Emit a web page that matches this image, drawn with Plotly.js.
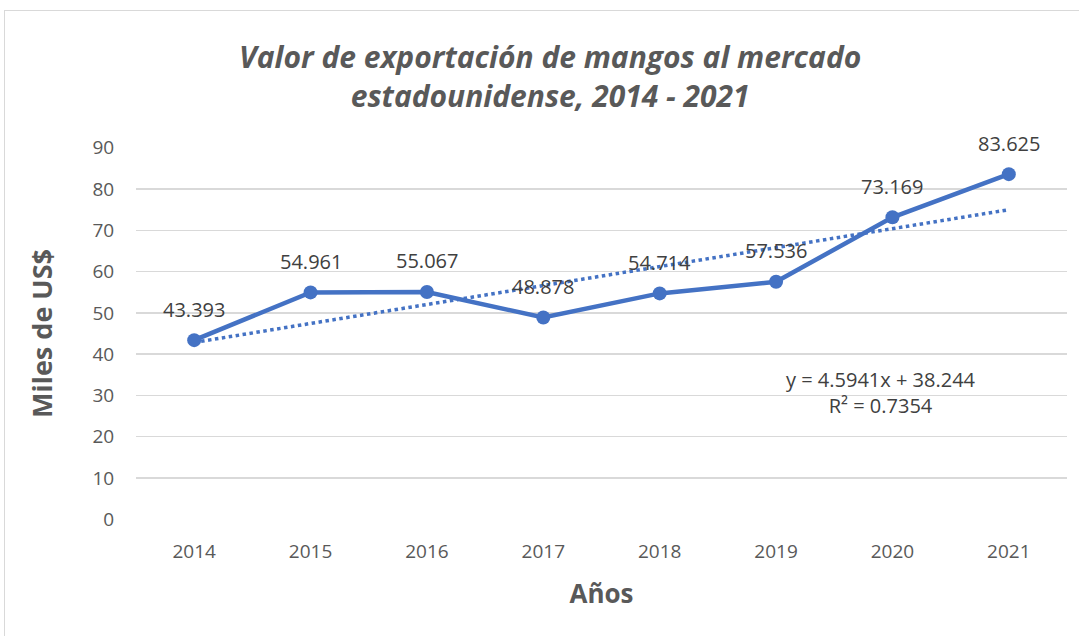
<!DOCTYPE html>
<html><head><meta charset="utf-8">
<script src="https://cdn.plot.ly/plotly-3.0.1.min.js"></script>
<style>
html,body{margin:0;padding:0;background:#fff;}
#frame{position:absolute;left:4px;top:10px;width:1200px;height:800px;border:1px solid #d9d9d9;}
#chart{position:absolute;left:0;top:0;width:1079px;height:636px;}
</style></head>
<body>
<div id="frame"></div>
<div id="chart"></div>
<script>
const years = ['2014','2015','2016','2017','2018','2019','2020','2021'];
const values = [43.393, 54.961, 55.067, 48.878, 54.714, 57.536, 73.169, 83.625];
const labels = ['43.393','54.961','55.067','48.878','54.714','57.536','73.169','83.625'];
const yTicks = [0,10,20,30,40,50,60,70,80,90];
const titleText = '<b><i>Valor de exportación de mangos al mercado<br>estadounidense, 2014 - 2021</i></b>';
const equationText = 'y = 4.5941x + 38.244<br>R² = 0.7354';

// positions of the categories on the axis
const pos = years.map((_, i) => i);

// least-squares linear trend over x = 1..n (Excel style)
const n = values.length;
const xs = values.map((_, i) => i + 1);
const mx = xs.reduce((a,b)=>a+b,0)/n, my = values.reduce((a,b)=>a+b,0)/n;
let sxy=0, sxx=0;
for (let i=0;i<n;i++){ sxy += (xs[i]-mx)*(values[i]-my); sxx += (xs[i]-mx)**2; }
const slope = sxy/sxx, intercept = my - slope*mx;
const trend = xs.map(x => slope*x + intercept);

const blue = '#4472C4';
const font = '"Open Sans", "Liberation Sans", sans-serif';

const data = [
  {x: pos, y: trend, type:'scatter', mode:'lines', line:{color:blue, width:3.5, dash:'dot'}, hoverinfo:'skip'},
  {x: pos, y: values, type:'scatter', mode:'lines+markers', line:{color:blue, width:4.5}, marker:{color:blue, size:14}}
];

const annotations = pos.map((p, i) => ({
  x: p, y: values[i], text: labels[i], showarrow:false, yshift:31,
  font:{family:font, size:20, color:'#404040'}
}));
annotations.push({
  x: 5.9, y: 30.8, xref:'x', yref:'y', text: equationText, showarrow:false, align:'center',
  font:{family:font, size:20, color:'#404040'}
});
annotations.push({
  x: 0.445, y: 1.19, xref:'paper', yref:'paper', xanchor:'center', yanchor:'middle',
  text: titleText, showarrow:false, align:'center',
  font:{family:font, size:30, color:'#595959'}
});

const layout = {
  width:1079, height:636,
  paper_bgcolor:'rgba(0,0,0,0)', plot_bgcolor:'rgba(0,0,0,0)',
  showlegend:false,
  margin:{l:136, r:12, t:147, b:116},
  xaxis:{range:[-0.5, 7.5], tickvals:pos, ticktext:years, showgrid:false, zeroline:false, showline:false,
         ticks:'outside', ticklen:14, tickcolor:'rgba(0,0,0,0)',
         tickfont:{family:font, size:19, color:'#595959'},
         title:{text:'<b>Años</b>', font:{family:font, size:26, color:'#595959'}, standoff:22}},
  yaxis:{range:[-0.2,90.2], tickvals:yTicks, showgrid:true, gridcolor:'#d9d9d9', gridwidth:1.5,
         zeroline:false, showline:false, ticks:'outside', ticklen:17, tickcolor:'rgba(0,0,0,0)',
         tickfont:{family:font, size:19, color:'#595959'},
         title:{text:'<b>Miles de US$</b>', font:{family:font, size:27, color:'#595959'}, standoff:32}},
  annotations: annotations
};
Plotly.newPlot('chart', data, layout, {displayModeBar:false, staticPlot:true});
</script>
</body></html>
